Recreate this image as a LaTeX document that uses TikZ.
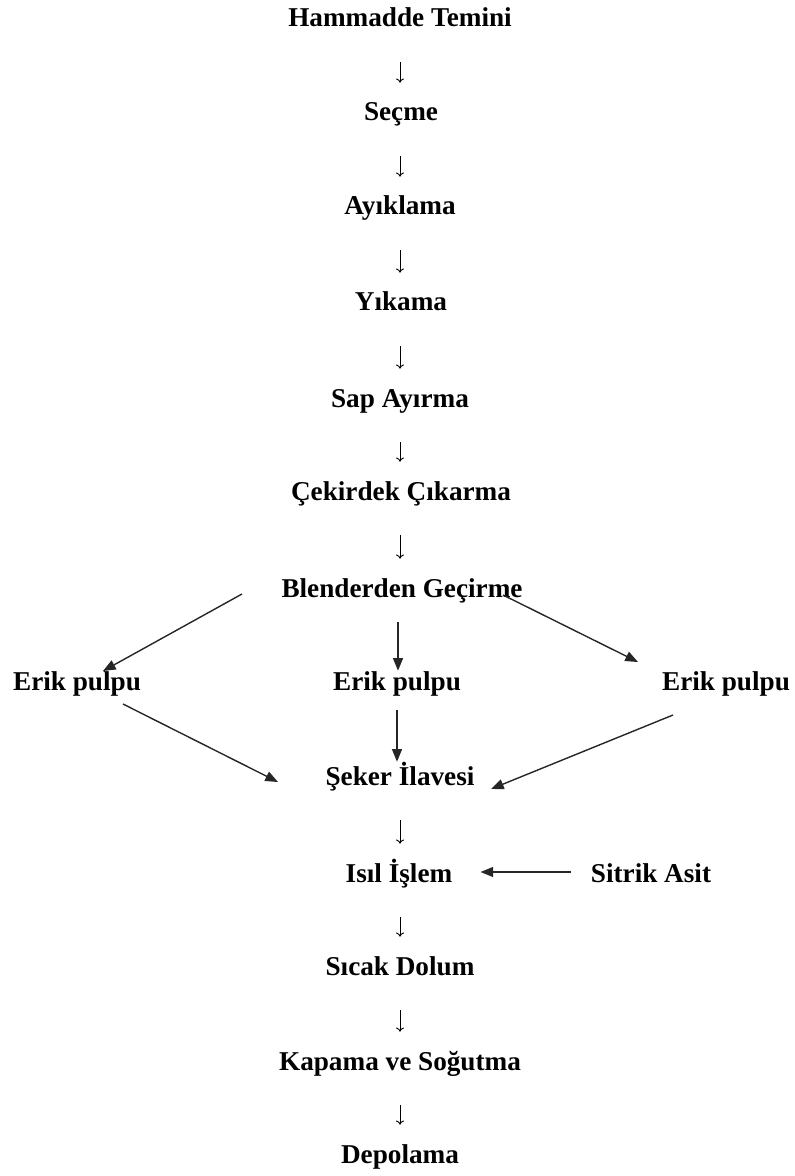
\documentclass[tikz,border=0pt]{standalone}
\usepackage{fontspec}
\setmainfont{Liberation Serif}
\usetikzlibrary{arrows.meta}
\begin{document}
\begin{tikzpicture}[x=0.75pt,y=-0.75pt,
  lbl/.style={anchor=base,inner sep=0pt,text height=14.25pt,text depth=4.5pt,
    font=\fontsize{20.4pt}{24pt}\selectfont\bfseries},
  glyph/.style={draw=black,line width=0.7pt,-{To[length=3.2pt,width=6pt]},
    shorten <=21.75pt,shorten >=14.25pt},
  flow/.style={draw=black!85,line width=1.05pt,-{Triangle[length=9.5pt,width=7.5pt]}}]
\useasboundingbox (0,0) rectangle (794,1176);
\node[lbl] (ham) at (400,27) {Hammadde Temini};
\node[lbl] (sec) at (401,121) {Seçme};
\node[lbl] (ayi) at (400,215) {Ayıklama};
\node[lbl] (yik) at (401,311) {Yıkama};
\node[lbl] (sap) at (400,407) {Sap Ayırma};
\node[lbl] (cek) at (401,500) {Çekirdek Çıkarma};
\node[lbl] (ble) at (402,597) {Blenderden Geçirme};
\node[lbl] (e1) at (77,690) {Erik pulpu};
\node[lbl] (e2) at (397,690) {Erik pulpu};
\node[lbl] (e3) at (726,690) {Erik pulpu};
\node[lbl] (sek) at (400,785) {Şeker İlavesi};
\node[lbl] (isi) at (399,882) {Isıl İşlem};
\node[lbl] (sit) at (651,882) {Sitrik Asit};
\node[lbl] (sic) at (400,975) {Sıcak Dolum};
\node[lbl] (kap) at (400,1070) {Kapama ve Soğutma};
\node[lbl] (dep) at (400,1163) {Depolama};
% small downward glyph arrows
\foreach \a/\b in {ham/sec,sec/ayi,ayi/yik,yik/sap,sap/cek,cek/ble,sek/isi,isi/sic,sic/kap,kap/dep}
  \draw[glyph] (\a.south -| 400,0) -- (\b.north -| 400,0);
% branch connectors
\coordinate (bl1) at (242,594);
\coordinate (el1) at (103,671);
\coordinate (br1) at (503,595);
\coordinate (er1) at (638,662);
\coordinate (el2) at (123,704);
\coordinate (sl2) at (278,782);
\coordinate (er2) at (673,715);
\coordinate (sr2) at (491,789);
\draw[flow] (bl1) -- (el1);
\draw[flow] (br1) -- (er1);
\draw[flow,shorten <=14.25pt] (ble.south -| 398,0) -- (e2.north -| 398,0);
\draw[flow] (el2) -- (sl2);
\draw[flow] (er2) -- (sr2);
\draw[flow,shorten <=10.5pt,shorten >=3pt] (e2.south -| 397,0) -- (sek.north -| 397,0);
\draw[flow,shorten <=15pt,shorten >=21pt] (sit.west |- 0,872) -- (isi.east |- 0,872);
\end{tikzpicture}
\end{document}
